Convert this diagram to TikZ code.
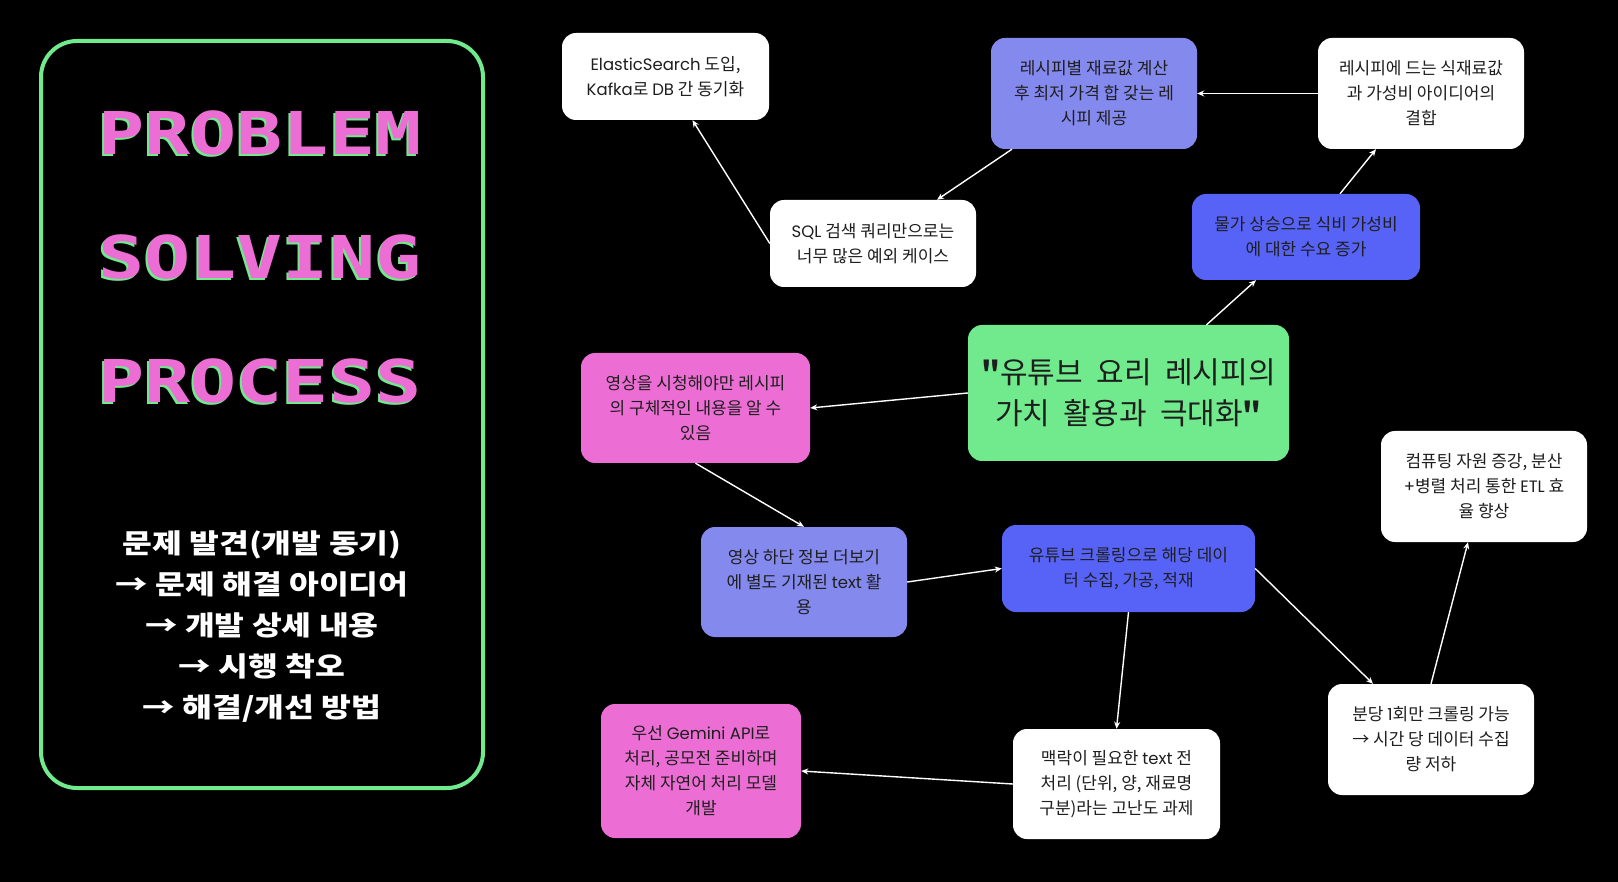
\documentclass[tikz,border=0pt]{standalone}
\usepackage{fontspec}
\setmainfont{Noto Sans CJK KR}
\newfontfamily\pixfont{DejaVu Sans Mono}
\newfontfamily\enfont{Poppins}
\newfontfamily\qfont{Noto Sans CJK KR}[Ligatures=TeXOff]
\usetikzlibrary{positioning, arrows.meta}
\definecolor{gcolor}{HTML}{70EA8C}
\definecolor{pcolor}{HTML}{EC6ED4}
\definecolor{lcolor}{HTML}{8489EE}
\definecolor{bcolor}{HTML}{5763F6}
\definecolor{tcolor}{HTML}{1E1E1E}

\newcommand{\pixtitle}[1]{\scalebox{1.3}[1]{\pixfont\bfseries #1}}
\newcommand{\pixline}[1]{\scalebox{1.2}[1]{#1}}
\newcommand{\en}[1]{{\enfont\fontsize{16.5}{25}\selectfont #1}}
\newcommand{\dq}{{\qfont\bfseries"}}

\begin{document}
\begin{tikzpicture}[
    x=1pt, y=-1pt,
    card/.style={rectangle, rounded corners=14pt, inner sep=0pt, align=center, text=tcolor, font=\fontsize{17}{25}\selectfont},
    dims/.style 2 args={minimum width=#1pt, minimum height=#2pt},
    arr/.style={-{Stealth[length=7pt, width=6pt]}, white, line width=1.4pt},
    ttl/.style={anchor=west, inner sep=0pt, font=\fontsize{59}{59}\selectfont},
  ]
    \fill[black] (0,0) rectangle (1618,882);
    \useasboundingbox (0,0) rectangle (1618,882);

    % left panel
    \node[draw=gcolor, line width=4pt, rounded corners=36pt, minimum width=442pt, minimum height=747pt] (panel) at (262,414.5) {};
    \node[ttl, text=gcolor] (probsh) at (96,135) {\pixtitle{PROBLEM}};
    \node[ttl, text=pcolor] (prob) at (98,133) {\pixtitle{PROBLEM}};
    \node[ttl, text=gcolor] (solvsh) at (96,259) {\pixtitle{SOLVING}};
    \node[ttl, text=pcolor] (solv) at (98,257) {\pixtitle{SOLVING}};
    \node[ttl, text=gcolor] (procsh) at (96,383) {\pixtitle{PROCESS}};
    \node[ttl, text=pcolor] (proc) at (98,381) {\pixtitle{PROCESS}};
    \node[align=center, text=white, font=\bfseries\fontsize{27}{41}\selectfont] (steps) at (262,626.5)
      {\pixline{문제 발견(개발 동기)}\\\pixline{→ 문제 해결 아이디어}\\\pixline{→ 개발 상세 내용}\\\pixline{→ 시행 착오}\\\pixline{→ 해결/개선 방법}};

    % cards
    \node[card, fill=white, dims={207}{87}] (elastic) at (665.5,76.5) {\en{ElasticSearch} 도입,\\\en{Kafka}로 \en{DB} 간 동기화};
    \node[card, fill=white, dims={206}{87}] (sql) at (873,243.5) {\en{SQL} 검색 쿼리만으로는\\너무 많은 예외 케이스};
    \node[card, fill=lcolor, dims={206}{111}] (recipe) at (1094,93.5) {레시피별 재료값 계산\\후 최저 가격 합 갖는 레\\시피 제공};
    \node[card, fill=white, dims={206}{111}] (idea) at (1421,93.5) {레시피에 드는 식재료값\\과 가성비 아이디어의\\결합};
    \node[card, fill=bcolor, dims={228}{86}] (price) at (1306,237) {물가 상승으로 식비 가성비\\에 대한 수요 증가};
    \node[card, fill=gcolor, dims={321}{136}, font=\fontsize{30}{41}\selectfont] (core) at (1128.5,393) {\dq 유튜브\ \ 요리\ \ 레시피의\\가치\ \ 활용과\ \ 극대화\dq};
    \node[card, fill=pcolor, dims={229}{110}] (watch) at (695.5,408) {영상을 시청해야만 레시피\\의 구체적인 내용을 알 수\\있음};
    \node[card, fill=lcolor, dims={206}{110}] (desc) at (804,582) {영상 하단 정보 더보기\\에 별도 기재된 \en{text} 활\\용};
    \node[card, fill=bcolor, dims={253}{87}] (crawl) at (1128.5,568.5) {유튜브 크롤링으로 해당 데이\\터 수집, 가공, 적재};
    \node[card, fill=white, dims={206}{111}] (etl) at (1484,486.5) {컴퓨팅 자원 증강, 분산\\\en{+}병렬 처리 통한 \en{ETL} 효\\율 향상};
    \node[card, fill=white, dims={206}{111}] (limit) at (1431,739.5) {분당 \en{1}회만 크롤링 가능\\→ 시간 당 데이터 수집\\량 저하};
    \node[card, fill=white, dims={207}{110}] (context) at (1116.5,784) {맥락이 필요한 \en{text} 전\\처리 (단위, 양, 재료명\\구분)라는 고난도 과제};
    \node[card, fill=pcolor, dims={200}{134}] (gemini) at (701,771) {우선 \en{Gemini API}로\\처리, 공모전 준비하며\\자체 자연어 처리 모델\\개발};

    % connectors
    \draw[arr] (core.west) -- (watch.east);
    \draw[arr] ([xshift=78pt]core.north) -- ([xshift=-50pt]price.south);
    \draw[arr] ([xshift=34pt]price.north) -- ([xshift=-45pt]idea.south);
    \draw[arr] (idea.west) -- (recipe.east);
    \draw[arr] ([xshift=-82pt]recipe.south) -- ([xshift=64pt]sql.north);
    \draw[arr] (sql.west) -- ([xshift=27pt]elastic.south);
    \draw[arr] (watch.south) -- (desc.north);
    \draw[arr] (desc.east) -- (crawl.west);
    \draw[arr] (crawl.south) -- (context.north);
    \draw[arr] (context.west) -- (gemini.east);
    \draw[arr] (crawl.east) -- ([xshift=-58pt]limit.north);
    \draw[arr] (limit.north) -- ([xshift=-16pt]etl.south);
  \end{tikzpicture}
\end{document}
